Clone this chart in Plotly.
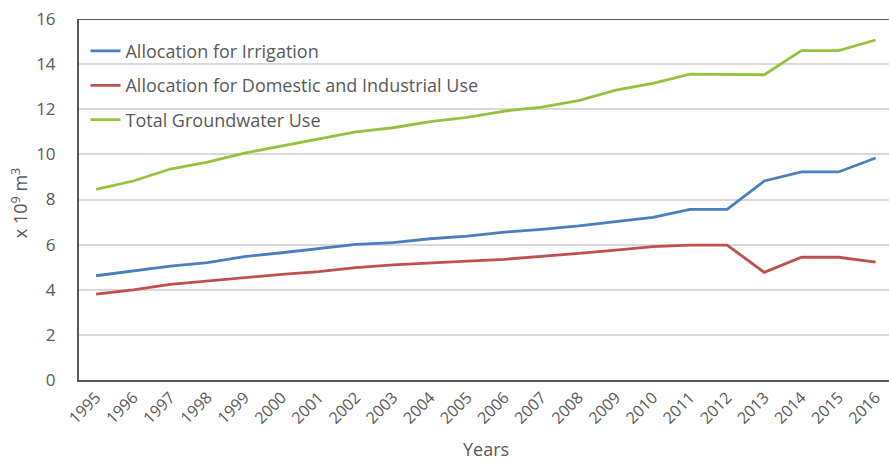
import plotly.graph_objects as go

years = list(range(1995, 2017))
irrigation = [4.62, 4.82, 5.05, 5.20, 5.47, 5.64, 5.84, 6.01, 6.09, 6.26, 6.38,
              6.55, 6.68, 6.83, 7.02, 7.21, 7.56, 7.56, 8.82, 9.22, 9.22, 9.84]
domestic_industrial = [3.81, 3.99, 4.24, 4.39, 4.54, 4.68, 4.80, 4.98, 5.10, 5.17, 5.27,
                       5.35, 5.47, 5.61, 5.76, 5.91, 5.98, 5.98, 4.77, 5.44, 5.44, 5.22]
total_groundwater = [8.45, 8.82, 9.35, 9.66, 10.06, 10.37, 10.67, 11.00, 11.18, 11.45, 11.64,
                     11.92, 12.09, 12.38, 12.85, 13.15, 13.56, 13.56, 13.53, 14.60, 14.60, 15.07]
y_ticks = [0, 2, 4, 6, 8, 10, 12, 14, 16]

series = [
    ("Allocation for Irrigation", irrigation, "#4A7EBF"),
    ("Allocation for Domestic and Industrial Use", domestic_industrial, "#C0504D"),
    ("Total Groundwater Use", total_groundwater, "#96C23E"),
]

FONT = "Open Sans, Lato, sans-serif"
GREY = "#595959"

fig = go.Figure()
for i, (name, vals, color) in enumerate(series):
    fig.add_trace(go.Scatter(
        x=years, y=vals, name=name, mode="lines",
        line=dict(color=color, width=2.8),
        legendgroup=f"g{i}",
    ))

fig.update_layout(
    width=889, height=462,
    margin=dict(l=79, r=0, t=19, b=82),
    paper_bgcolor="white", plot_bgcolor="white",
    font=dict(family=FONT, color=GREY, size=16),
    showlegend=True,
    legend=dict(
        x=0.008, y=0.962, xanchor="left", yanchor="top",
        bgcolor="rgba(0,0,0,0)", traceorder="grouped", tracegroupgap=8,
        font=dict(size=18, color=GREY), itemwidth=30,
    ),
    xaxis=dict(
        range=[1994.54, 2016.36],
        tickmode="array", tickvals=years, ticktext=[str(y) for y in years],
        tickangle=-45, showgrid=False, zeroline=False,
        showline=True, linecolor="#595959", linewidth=2,
        ticks="", tickfont=dict(size=16, color=GREY),
    ),
    yaxis=dict(
        range=[0, 16], tickvals=y_ticks,
        showgrid=True, gridcolor="#D9D9D9", gridwidth=1.5,
        zeroline=False, showline=True, linecolor="#595959", linewidth=2,
        ticks="", ticklabelstandoff=18, tickfont=dict(size=17, color=GREY),
    ),
    annotations=[
        dict(text="x 10<sup>9</sup> m<sup>3</sup>", textangle=-90,
             xref="paper", yref="paper", x=-0.0728, y=0.49,
             xanchor="center", yanchor="middle", showarrow=False,
             font=dict(size=18, color=GREY)),
        dict(text="Years", xref="paper", yref="paper", x=0.5025, y=-0.2271,
             xanchor="center", yanchor="bottom", showarrow=False,
             borderpad=0, font=dict(size=18, color=GREY)),
    ],
    shapes=[
        dict(type="line", xref="paper", yref="y", x0=0, x1=1, y0=16, y1=16,
             line=dict(color="#595959", width=2)),
    ],
)

fig.write_html("out.html")
